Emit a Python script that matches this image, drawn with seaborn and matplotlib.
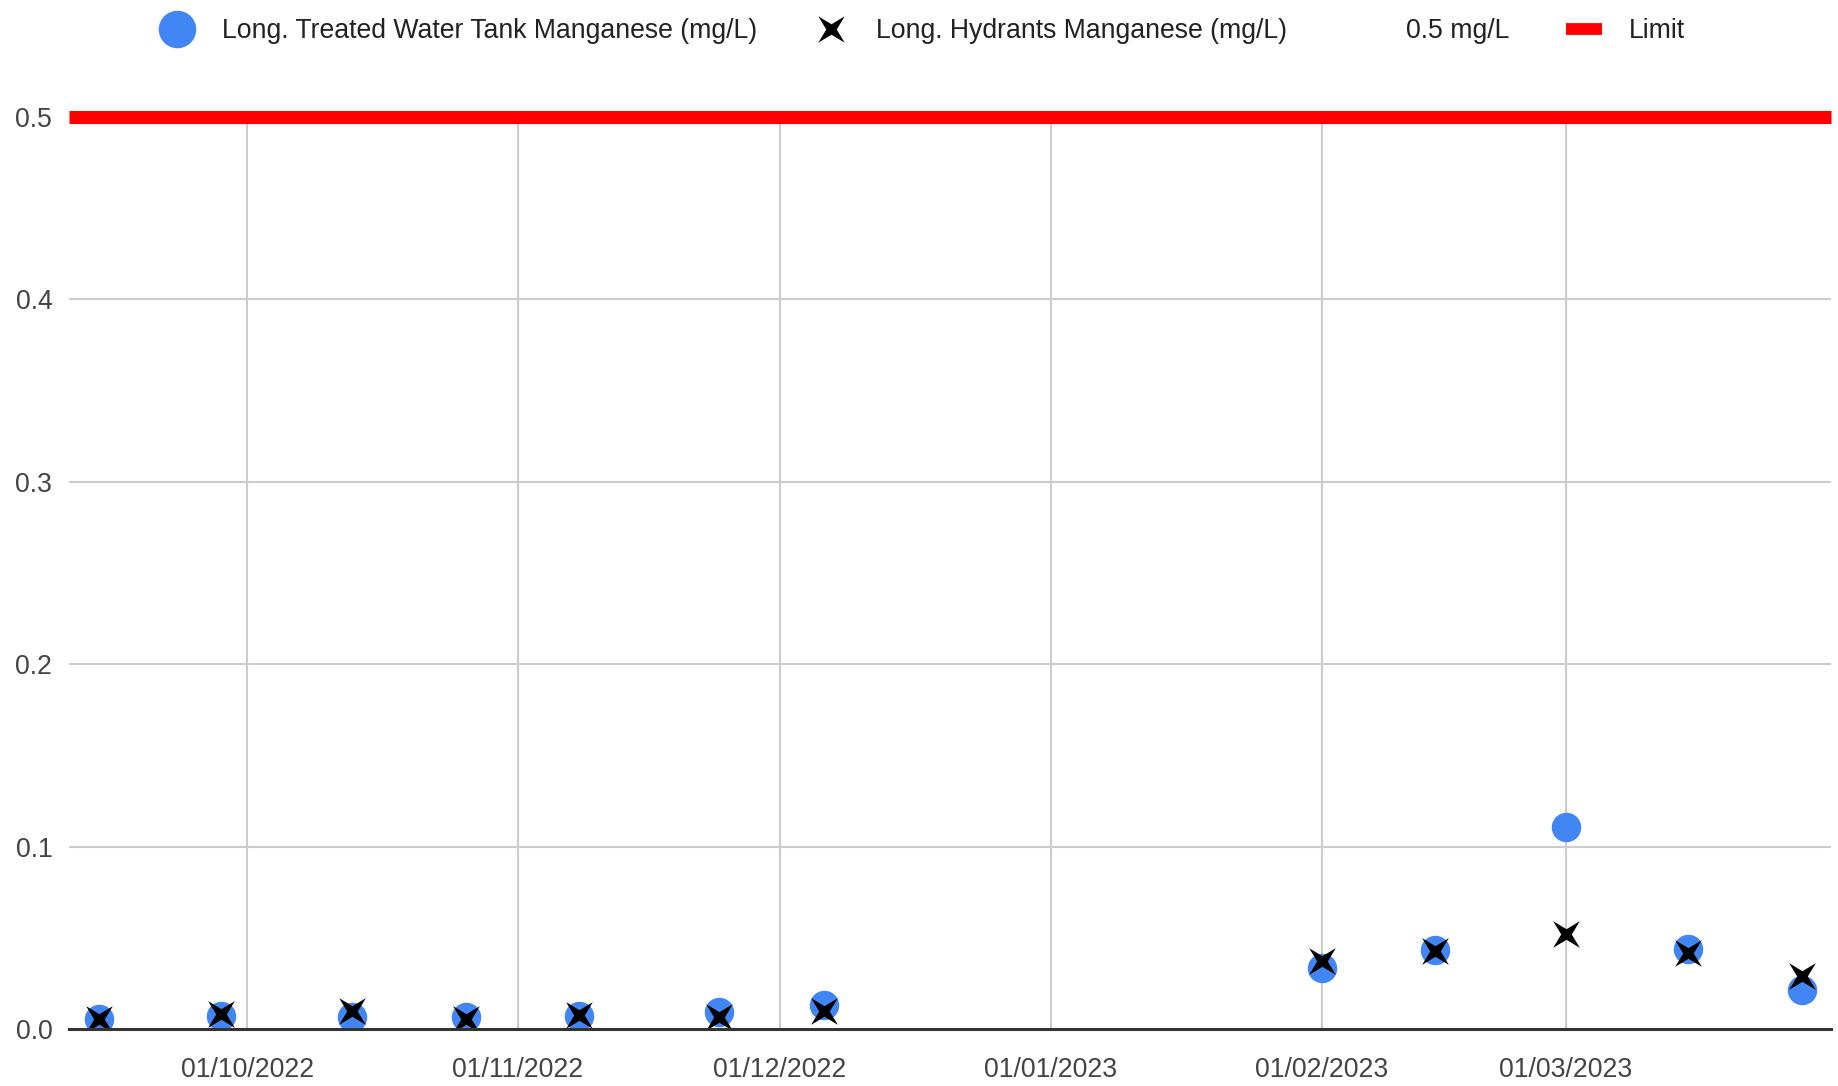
import matplotlib
matplotlib.use("Agg")
import matplotlib.pyplot as plt
import matplotlib.dates as mdates
from matplotlib.lines import Line2D
from matplotlib.path import Path
from matplotlib.transforms import Affine2D
import seaborn as sns
import pandas as pd

# ---------------- data ----------------
sample_dates = ["2022-09-14", "2022-09-28", "2022-10-13", "2022-10-26", "2022-11-08",
                "2022-11-24", "2022-12-06", "2023-02-01", "2023-02-14", "2023-03-01",
                "2023-03-15", "2023-03-28"]
tank_mn = [0.0056, 0.0073, 0.0066, 0.0064, 0.0073, 0.0091, 0.0133,
           0.0334, 0.0431, 0.1107, 0.0440, 0.0212]
hydrant_mn = [0.0057, 0.0084, 0.0097, 0.0055, 0.0077, 0.0066, 0.0097,
              0.0374, 0.0426, 0.0522, 0.0417, 0.0292]
limit_value = 0.5
y_ticks = [0.0, 0.1, 0.2, 0.3, 0.4, 0.5]
x_tick_dates = ["2022-10-01", "2022-11-01", "2022-12-01", "2023-01-01", "2023-02-01", "2023-03-01"]
x_range = ["2022-09-10 14:00", "2023-03-31 08:00"]
label_tank = "Long. Treated Water Tank Manganese (mg/L)"
label_hyd = "Long. Hydrants Manganese (mg/L)"
label_limit_val = "0.5 mg/L"
label_limit = "Limit"

df = pd.DataFrame({"date": pd.to_datetime(sample_dates), "tank": tank_mn, "hydrant": hydrant_mn})

# ---------------- style ----------------
sns.set_theme(style="white")
plt.rcParams["font.family"] = ["Liberation Sans", "DejaVu Sans"]
BLUE = "#4285F4"
GRID = "#cccccc"
TXT = "#444444"
FS = 19.2

star = Path.unit_regular_star(4, 0.28)
star = star.transformed(Affine2D().rotate_deg(45))

fig = plt.figure(figsize=(18.38, 10.86), dpi=100)
ax = fig.add_axes([69 / 1838, 1 - 1029 / 1086, (1831 - 69) / 1838, (1029 - 117) / 1086])

sns.scatterplot(data=df, x="date", y="tank", ax=ax, color=BLUE, s=450, marker="o",
                linewidth=0, zorder=3, legend=False)
sns.scatterplot(data=df, x="date", y="hydrant", ax=ax, color="black", s=370, marker=star,
                linewidth=0, zorder=4, legend=False)

ax.axhline(limit_value, color="#ff0000", lw=9.4, zorder=5, clip_on=False,
           solid_capstyle="butt")

ax.set_ylim(0, 0.5)
ax.set_xlim(pd.Timestamp(x_range[0]), pd.Timestamp(x_range[1]))
ax.set_yticks(y_ticks)
ax.set_yticklabels([f"{v:.1f}" for v in y_ticks])
ax.set_xticks(pd.to_datetime(x_tick_dates))
ax.xaxis.set_major_formatter(mdates.DateFormatter("%d/%m/%Y"))
ax.set_xlabel("")
ax.set_ylabel("")

ax.grid(True, color=GRID, lw=1.5)
ax.set_axisbelow(True)
for s in ["top", "right", "left"]:
    ax.spines[s].set_visible(False)
ax.spines["bottom"].set_color("#333333")
ax.spines["bottom"].set_linewidth(2.2)
ax.spines["bottom"].set_zorder(6)
ax.tick_params(axis="both", length=0, labelsize=FS, labelcolor=TXT)
ax.tick_params(axis="y", pad=12)
ax.tick_params(axis="x", pad=20)

handles = [
    Line2D([], [], marker="o", color=BLUE, linestyle="None", markersize=27, markeredgewidth=0),
    Line2D([], [], marker=star, color="black", linestyle="None", markersize=19, markeredgewidth=0),
    Line2D([], [], marker="None", linestyle="None"),
    Line2D([], [], color="#ff0000", lw=8.5, solid_capstyle="butt"),
]
fig.legend(handles, [label_tank, label_hyd, label_limit_val, label_limit],
           loc="center", bbox_to_anchor=(0.5015, 1 - 31 / 1086), ncol=4, frameon=False,
           fontsize=FS, handlelength=1.37, handletextpad=1.0, columnspacing=2.1,
           labelcolor="#222222")

fig.savefig("out.png", dpi=100, facecolor="white")
